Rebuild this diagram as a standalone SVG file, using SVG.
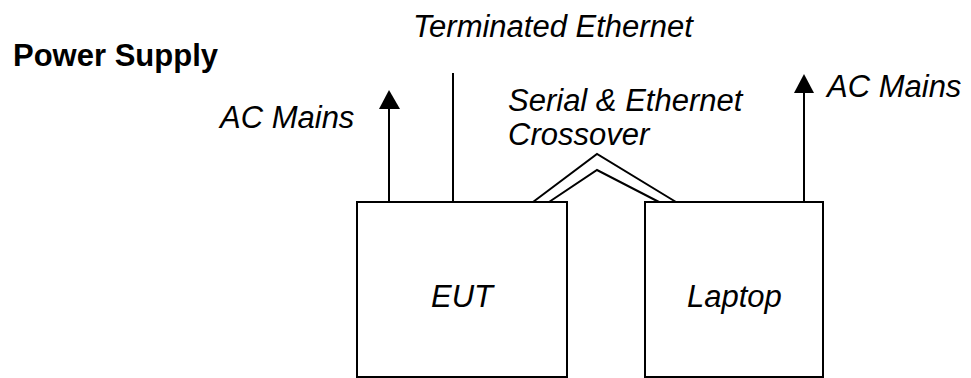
<svg xmlns="http://www.w3.org/2000/svg" width="971" height="378" viewBox="0 0 971 378">
<defs>
<style>
.lbl{font-family:"Liberation Sans",Arial,sans-serif;font-style:italic;font-size:31px;fill:#000}
.ttl{font-family:"Liberation Sans",Arial,sans-serif;font-weight:bold;font-size:31px;fill:#000}
.box{fill:#fff;stroke:#000;stroke-width:2}
.ln{fill:none;stroke:#000;stroke-width:2}
</style>
</defs>
<rect width="971" height="378" fill="#fff"/>
<g id="labels">
<text class="ttl" x="13" y="66">Power Supply</text>
<text class="lbl" x="413" y="37">Terminated Ethernet</text>
<text class="lbl" x="220" y="128">AC Mains</text>
<text class="lbl" x="508" y="111">Serial &amp; Ethernet</text>
<text class="lbl" x="508" y="145">Crossover</text>
<text class="lbl" x="827" y="97">AC Mains</text>
</g>
<g id="connectors">
<line class="ln" x1="389" y1="202" x2="389" y2="108"/>
<polygon points="389,90 379,109 400,109" fill="#000"/>
<line class="ln" x1="453" y1="73" x2="453" y2="202"/>
<polyline class="ln" points="533,202 597,154 676,202"/>
<polyline class="ln" points="549,202 597,170 659,202"/>
<line class="ln" x1="804" y1="202" x2="804" y2="92"/>
<polygon points="804,74 794,93 814,93" fill="#000"/>
</g>
<g id="eut">
<rect class="box" x="357" y="202" width="210" height="175"/>
<text class="lbl" x="431" y="307" font-size="32">EUT</text>
</g>
<g id="laptop">
<rect class="box" x="645" y="202" width="178" height="175"/>
<text class="lbl" x="687" y="307">Laptop</text>
</g>
</svg>
